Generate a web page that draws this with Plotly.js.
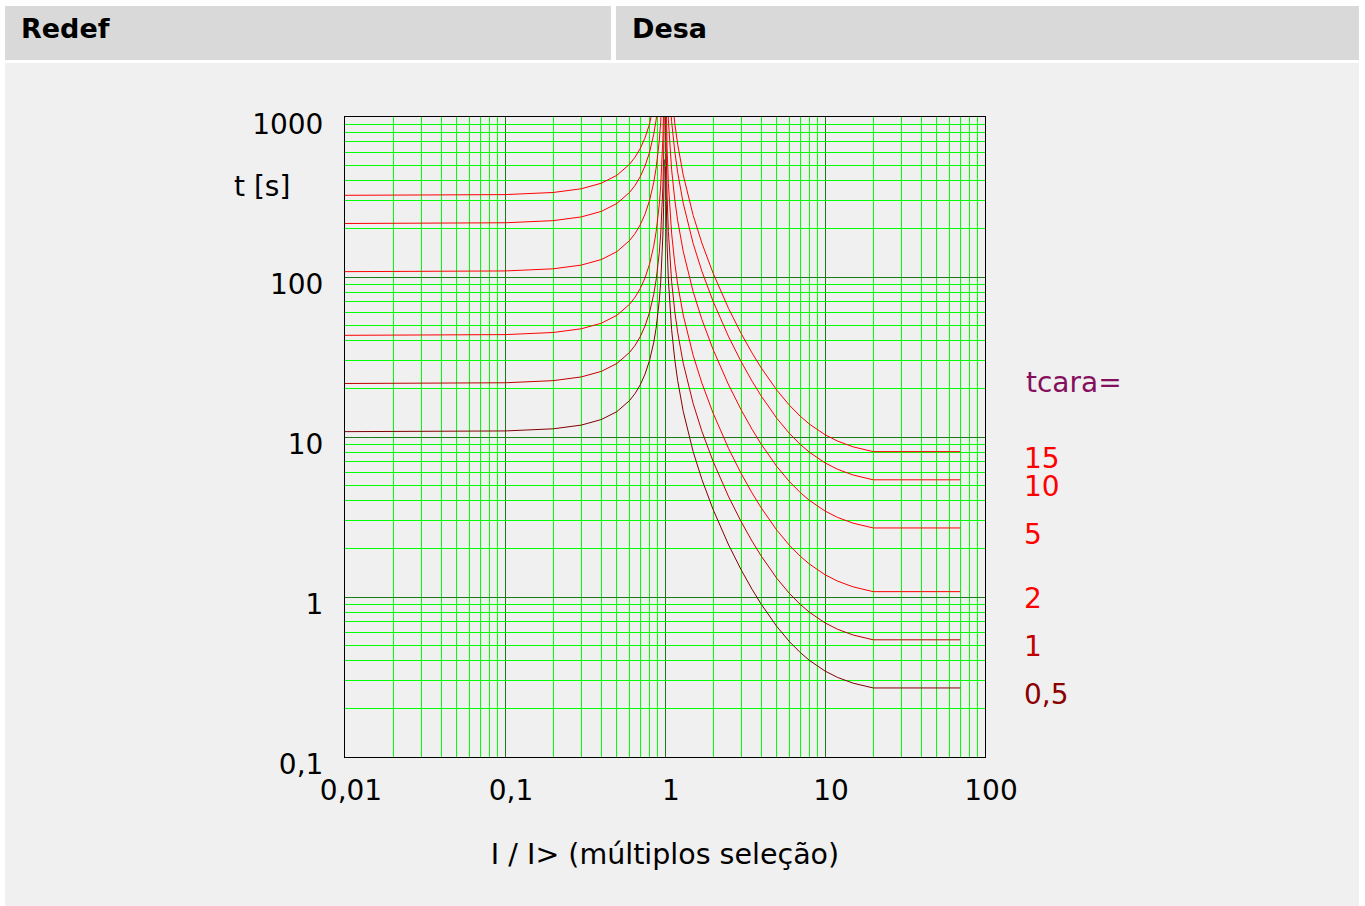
<!DOCTYPE html>
<html>
<head>
<meta charset="utf-8">
<script src="https://cdn.plot.ly/plotly-3.0.1.min.js"></script>
<style>
  html, body { margin:0; padding:0; background:#ffffff; width:1365px; height:906px; overflow:hidden; font-family:"DejaVu Sans", sans-serif; }
  .hdr { position:absolute; top:6px; height:54px; background:#d9d9d9; }
  .hdr span { position:absolute; left:16px; top:8px; font-weight:bold; font-size:27px; line-height:30px; color:#000; }
  #content { position:absolute; left:5px; top:63px; width:1354px; height:843px; background:#f0f0f0; }
  #chart { position:absolute; left:0; top:0; width:1365px; height:906px; }
</style>
</head>
<body>
<div class="hdr" style="left:5px;width:606px;"><span>Redef</span></div>
<div class="hdr" style="left:616px;width:743px;"><span>Desa</span></div>
<div id="content"></div>
<div id="chart"></div>
<script>
// ---- data ----
const tcara = [0.5, 1, 2, 5, 10, 15];
const tcaraLabels = ["0,5", "1", "2", "5", "10", "15"];
const curveColors = ["#800000", "#c00000", "#ff0000", "#ff0000", "#ff0000", "#ff0000"];

// reset side (I/I> < 1)
const resetI = [0.01, 0.02, 0.05, 0.1, 0.2, 0.3, 0.4, 0.5, 0.6, 0.65, 0.7, 0.75, 0.8, 0.85, 0.88, 0.9, 0.92, 0.94, 0.96, 0.97, 0.98, 0.99];
const reset_0_5 = [10.8, 10.8, 10.83, 10.91, 11.25, 11.87, 12.86, 14.4, 16.88, 18.7, 21.18, 24.69, 30.0, 38.92, 47.87, 56.84, 70.31, 92.78, 137.8, 182.7, 272.7, 542.7];
const reset_1   = [21.6, 21.61, 21.65, 21.82, 22.5, 23.74, 25.71, 28.8, 33.75, 37.4, 42.35, 49.37, 60.0, 77.84, 95.74, 113.7, 140.6, 185.6, 275.5, 365.5, 545.5, 1085];
const reset_2   = [43.2, 43.22, 43.31, 43.64, 45.0, 47.47, 51.43, 57.6, 67.5, 74.8, 84.7, 98.74, 120, 155.7, 191.5, 227.4, 281.3, 371.1, 551.0, 731.0, 1091, 2171];
const reset_5   = [108.0, 108.0, 108.3, 109.1, 112.5, 118.7, 128.6, 144.0, 168.8, 187.0, 211.8, 246.9, 300, 389.2, 478.7, 568.4, 703.1, 927.8, 1378, 1827, 2727, 5427];
const reset_10  = [216, 216.1, 216.5, 218.2, 225, 237.4, 257.1, 288, 337.5, 374, 423.5, 493.7, 600, 778.4, 957.4, 1137, 1406, 1856, 2755, 3655, 5455, 10854];
const reset_15  = [324, 324.1, 324.8, 327.3, 337.5, 356, 385.7, 432, 506.3, 561, 635.3, 740.6, 900, 1168, 1436, 1705, 2109, 2784, 4133, 5482, 8182, 16281];

// trip side (I/I> > 1)
const tripI = [1.01, 1.02, 1.03, 1.05, 1.07, 1.1, 1.15, 1.2, 1.3, 1.4, 1.5, 1.7, 2, 2.5, 3, 3.5, 4, 5, 6, 7, 8, 10, 12, 15, 20, 70];
const trip_0_5 = [488.1, 243, 161.3, 95.9, 67.9, 46.94, 30.65, 22.53, 14.46, 10.46, 8.09, 5.435, 3.514, 2.113, 1.471, 1.117, 0.899, 0.654, 0.5255, 0.4498, 0.4012, 0.3446, 0.3141, 0.2893, 0.2701, 0.2701];
const trip_1   = [976.1, 485.9, 322.5, 191.8, 135.8, 93.87, 61.3, 45.06, 28.91, 20.92, 16.18, 10.87, 7.028, 4.226, 2.942, 2.234, 1.798, 1.308, 1.051, 0.8995, 0.8023, 0.6891, 0.6281, 0.5785, 0.5401, 0.5401];
const trip_2   = [1952, 971.8, 645, 383.6, 271.6, 187.7, 122.6, 90.12, 57.82, 41.84, 32.36, 21.74, 14.06, 8.452, 5.884, 4.468, 3.596, 2.616, 2.102, 1.799, 1.605, 1.378, 1.256, 1.157, 1.080, 1.080];
const trip_5   = [4881, 2430, 1613, 959, 679, 469.4, 306.5, 225.3, 144.6, 104.6, 80.9, 54.35, 35.14, 21.13, 14.71, 11.17, 8.99, 6.54, 5.255, 4.498, 4.012, 3.446, 3.141, 2.893, 2.701, 2.701];
const trip_10  = [9761, 4859, 3225, 1918, 1358, 938.7, 613, 450.6, 289.1, 209.2, 161.8, 108.7, 70.28, 42.26, 29.42, 22.34, 17.98, 13.08, 10.51, 8.995, 8.023, 6.891, 6.281, 5.785, 5.401, 5.401];
const trip_15  = [14642, 7289, 4838, 2877, 2037, 1408, 919.5, 675.9, 433.7, 313.8, 242.7, 163.1, 105.4, 63.39, 44.13, 33.51, 26.97, 19.62, 15.77, 13.49, 12.03, 10.34, 9.42, 8.678, 8.102, 8.102];

const xTickVals = [0.01, 0.1, 1, 10, 100];
const xTickText = ["0,01", "0,1", "1", "10", "100"];
const yTickVals = [0.1, 1, 10, 100, 1000];
const yTickText = ["0,1", "1", "10", "100", "1000"];

const xTitle = "I / I> (múltiplos seleção)";
const yTitle = "t [s]";
const legendTitle = "tcara=";

// ---- build ----
const resetSeries = [reset_0_5, reset_1, reset_2, reset_5, reset_10, reset_15];
const tripSeries = [trip_0_5, trip_1, trip_2, trip_5, trip_10, trip_15];

const traces = [];
tcara.forEach((k, i) => {
  traces.push({ x: resetI, y: resetSeries[i], type: "scatter", mode: "lines",
    line: { color: curveColors[i], width: 1 }, name: "reset " + tcaraLabels[i], showlegend: false, hoverinfo: "x+y" });
  traces.push({ x: tripI, y: tripSeries[i], type: "scatter", mode: "lines",
    line: { color: curveColors[i], width: 1 }, name: "trip " + tcaraLabels[i], showlegend: false, hoverinfo: "x+y" });
});

// plot area geometry
const M = { l: 345, r: 380, t: 117, b: 149 };
const PW = 1365 - M.l - M.r, PH = 906 - M.t - M.b;

// log grid (decade lines dark green, 2..9 lines bright green), snapped to whole pixels
const XR = [-2, 2], YR = [-1, 3];
const shapes = [];
function addGrid(axis, R) {
  const len = axis === "x" ? PW : PH;
  for (let e = R[0]; e <= R[1]; e++) {
    for (let d = 1; d <= 9; d++) {
      const v = Math.log10(d * Math.pow(10, e));
      if (v > R[1] + 1e-9) break;
      let f = (v - R[0]) / (R[1] - R[0]);
      if (f <= 1e-9 || f >= 1 - 1e-9) continue;
      const col = d === 1 ? "#1a7a1a" : "#00ff00";
      if (axis === "x") {
        const px = Math.floor(f * len) + 0.5;
        f = px / len;
        shapes.push({ type: "line", xref: "paper", yref: "paper", x0: f, x1: f, y0: 0, y1: 1, layer: "between", line: { color: col, width: 1 } });
      } else {
        const py = Math.floor((1 - f) * len) + 0.5;
        f = 1 - py / len;
        shapes.push({ type: "line", xref: "paper", yref: "paper", y0: f, y1: f, x0: 0, x1: 1, layer: "between", line: { color: col, width: 1 } });
      }
    }
  }
}
addGrid("x", XR);
addGrid("y", YR);

const font = { family: "DejaVu Sans, sans-serif", size: 28, color: "#000" };

const annotations = [
  { xref: "paper", yref: "paper", x: (292 - M.l) / PW, y: (757 - 186) / PH, xanchor: "right", yanchor: "middle",
    text: yTitle, showarrow: false, font: font },
  { xref: "paper", yref: "paper", x: (1024 - M.l) / PW, y: (757 - 382) / PH, xanchor: "left", yanchor: "middle",
    text: legendTitle, showarrow: false, font: Object.assign({}, font, { color: "#850f5c" }) }
];
const labelColors = ["#8b0000", "#c00000", "#ff0000", "#ff0000", "#ff0000", "#ff0000"];
tcara.forEach((k, i) => {
  const s = tripSeries[i];
  annotations.push({ xref: "paper", yref: "y", x: (1022 - M.l) / PW, y: Math.log10(s[s.length - 1]),
    yshift: -7, xanchor: "left", yanchor: "middle", text: tcaraLabels[i], showarrow: false,
    font: Object.assign({}, font, { color: labelColors[i] }) });
});

const layout = {
  width: 1365, height: 906,
  margin: { l: M.l, r: M.r, t: M.t, b: M.b, pad: 0 },
  paper_bgcolor: "rgba(0,0,0,0)",
  plot_bgcolor: "rgba(0,0,0,0)",
  font: font,
  showlegend: false,
  xaxis: {
    type: "log", range: XR, tickmode: "array", tickvals: xTickVals, ticktext: xTickText,
    showgrid: false,
    showline: true, linecolor: "#000", linewidth: 1, mirror: true, ticks: "", zeroline: false,
    tickfont: font, ticklabelstandoff: 8, ticklabelshift: 6,
    title: { text: xTitle, font: Object.assign({}, font, { size: 28.5 }), standoff: 38 }
  },
  yaxis: {
    type: "log", range: YR, tickmode: "array", tickvals: yTickVals, ticktext: yTickText,
    showgrid: false,
    showline: true, linecolor: "#000", linewidth: 1, mirror: true, ticks: "", zeroline: false,
    tickfont: font, ticklabelstandoff: 15, ticklabelshift: 7
  },
  shapes: shapes,
  annotations: annotations
};

Plotly.newPlot("chart", traces, layout, { displayModeBar: false, staticPlot: true });
</script>
</body>
</html>
